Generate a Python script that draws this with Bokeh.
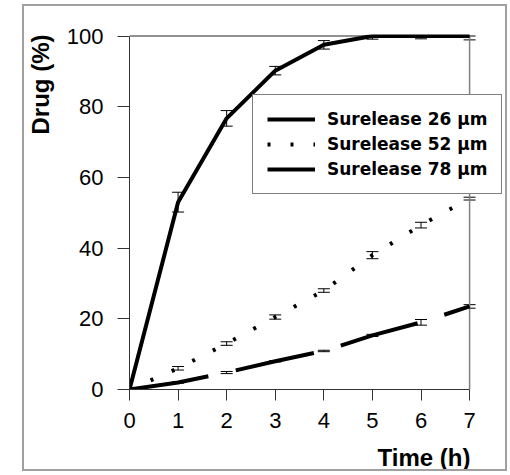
from bokeh.plotting import figure
from bokeh.models import (ColumnDataSource, Whisker, TeeHead, Legend, LegendItem,
                          Title, FixedTicker)
from bokeh.embed import file_html
from bokeh.resources import INLINE

# ---- data ----
time_h = [0, 1, 2, 3, 4, 5, 6, 7]
s26_mean = [0, 53.0, 76.7, 90.2, 97.5, 100.0, 100.0, 100.0]
s26_sd = [0, 2.8, 2.2, 1.2, 1.2, 0.9, 0.8, 1.1]
s52_mean = [0, 6.0, 13.0, 20.5, 28.0, 38.0, 46.5, 54.0]
s52_sd = [0, 0.5, 0.5, 0.6, 0.5, 1.0, 0.8, 0.4]
s78_mean = [0, 2.0, 4.8, 8.0, 10.9, 15.3, 19.0, 23.5]
s78_sd = [0, 0.2, 0.3, 0.2, 0.2, 0.3, 0.8, 0.5]
series_labels = ["Surelease 26 \u03bcm", "Surelease 52 \u03bcm", "Surelease 78 \u03bcm"]
x_ticks = [0, 1, 2, 3, 4, 5, 6, 7]
y_ticks = [0, 20, 40, 60, 80, 100]
x_title = "Time (h)"
y_title = "Drug (%)"

# frame extends right of x=7 so the legend box is not clipped
x_end = x_ticks[-1] * 375 / 341
y_end = y_ticks[-1] * 355 / 353.5

p = figure(width=481, height=463, x_range=(0, x_end), y_range=(0, y_end),
           output_backend="svg", toolbar_location=None,
           min_border_left=104, min_border_right=2, min_border_top=28,
           min_border_bottom=80,
           styles={"position": "relative", "left": "24px", "top": "6px",
                   "outline": "2px solid #a0a0a0"})
p.xgrid.visible = False
p.ygrid.visible = False
p.outline_line_color = None
p.background_fill_color = "white"
p.border_fill_color = "white"

for ax in (p.xaxis[0], p.yaxis[0]):
    ax.axis_line_color = "#333333"
    ax.major_tick_line_color = "#333333"
    ax.minor_tick_line_color = None
    ax.major_tick_in = 0
    ax.major_label_text_font = "Liberation Sans"
    ax.major_label_text_font_size = "22px"
    ax.major_label_text_color = "black"
    # invisible spacer label: pushes the title panel outward
    ax.axis_label = " "
    ax.axis_label_text_font_size = "1px"
p.xaxis.axis_label_standoff = 11
p.yaxis.axis_label_standoff = 6
p.xaxis.ticker = FixedTicker(ticks=x_ticks)
p.yaxis.ticker = FixedTicker(ticks=y_ticks)
p.xaxis.bounds = (x_ticks[0], x_ticks[-1])
p.yaxis.bounds = (y_ticks[0], y_ticks[-1])
p.xaxis.major_tick_out = 11
p.yaxis.major_tick_out = 12
p.xaxis.major_label_standoff = 12
p.yaxis.major_label_standoff = 14

p.add_layout(Title(text=x_title, align="right", offset=33, standoff=-8,
                   text_font="Liberation Sans", text_font_style="bold",
                   text_font_size="24px", text_color="black"), "below")
p.add_layout(Title(text=y_title, align="right", offset=0, standoff=0,
                   text_font="Liberation Sans", text_font_style="bold",
                   text_font_size="24px", text_color="black"), "left")

# frame lines at top (y=100) and right (x=7)
p.segment(x0=[x_ticks[0]], y0=[y_ticks[-1]], x1=[x_ticks[-1]], y1=[y_ticks[-1]],
          line_color="#222222", line_width=1)
p.segment(x0=[x_ticks[-1]], y0=[y_ticks[0]], x1=[x_ticks[-1]], y1=[y_ticks[-1]],
          line_color="#808080", line_width=1.5)

r26 = p.line(time_h, s26_mean, line_width=4, line_color="black")
r52 = p.line(time_h, s52_mean, line_width=4, line_color="black", line_dash="3 20")
r78 = p.line(time_h, s78_mean, line_width=4, line_color="black", line_dash="80 28")

for mean, sd in ((s26_mean, s26_sd), (s52_mean, s52_sd), (s78_mean, s78_sd)):
    xs = [t for t, s in zip(time_h, sd) if s > 0]
    up = [min(m + s, y_ticks[-1]) for m, s in zip(mean, sd) if s > 0]
    lo = [m - s for m, s in zip(mean, sd) if s > 0]
    src = ColumnDataSource(dict(x=xs, upper=up, lower=lo))
    w = Whisker(base="x", upper="upper", lower="lower", source=src,
                line_color="black", line_width=1,
                upper_head=TeeHead(size=12, line_color="black", line_width=1),
                lower_head=TeeHead(size=12, line_color="black", line_width=1))
    p.add_layout(w)

legend = Legend(items=[LegendItem(label=series_labels[0], renderers=[r26]),
                       LegendItem(label=series_labels[1], renderers=[r52]),
                       LegendItem(label=series_labels[2], renderers=[r78])],
                location=(123, 195), margin=0, padding=14, spacing=5,
                glyph_width=48, glyph_height=20, label_height=20,
                label_standoff=12,
                label_text_font="DejaVu Sans", label_text_font_style="bold",
                label_text_font_size="17px", label_text_color="black",
                border_line_color="black", border_line_width=1,
                background_fill_color="white", background_fill_alpha=1.0)
p.add_layout(legend)

open("out.html", "w").write(file_html(p, INLINE))
